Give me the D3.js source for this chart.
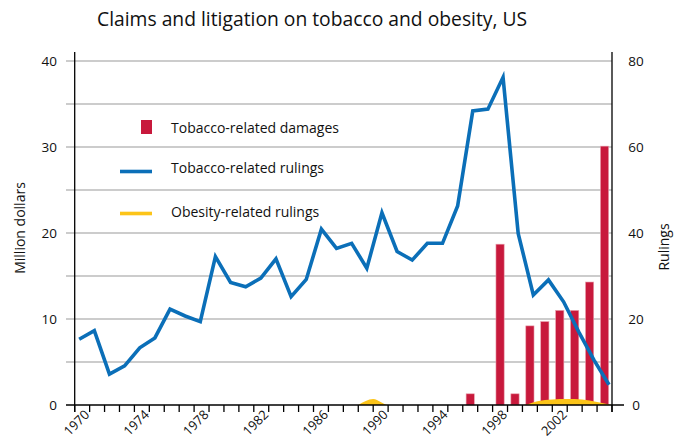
<!DOCTYPE html>
<html>
<head>
<meta charset="utf-8">
<script src="https://cdn.jsdelivr.net/npm/d3@7"></script>
<style>
  body { margin: 0; background: #fff; }
  svg { font-family: "Open Sans", "Noto Sans", sans-serif; }
</style>
</head>
<body>
<svg width="680" height="441"></svg>
<script>
// years on the x axis, tick every year, label every 4
const tickYears = d3.range(1970, 2007)
const labelYears = [1970, 1974, 1978, 1982, 1986, 1990, 1994, 1998, 2002]

// tobacco-related rulings (right axis, count per year)
const lineYears = d3.range(1970, 2006)
const tobaccoRulings = [15.3, 17.3, 7.2, 9.1, 13.3, 15.6, 22.3, 20.7, 19.4, 34.5,
  28.5, 27.5, 29.5, 34.0, 25.2, 29.2, 40.9, 36.4, 37.6, 31.8,
  44.7, 35.7, 33.7, 37.6, 37.6, 46.3, 68.4, 68.8, 76.2, 39.9,
  25.6, 29.1, 24.0, 17.0, 10.5, 4.7]

// tobacco-related damages (left axis, million dollars)
const damageYears = [1996, 1998, 1999, 2000, 2001, 2002, 2003, 2004, 2005]
const tobaccoDamages = [1.3, 18.7, 1.3, 9.2, 9.7, 11.0, 11.0, 14.3, 30.1]

// obesity-related rulings (right axis)
const obesityYears = [1989, 1990, 1991, 1999, 2000, 2001, 2002, 2003, 2004, 2005, 2006]
const obesityRulings = [0, 1.4, 0, 0, 0, 0.9, 1.3, 1.4, 1.3, 0.7, 0]

const leftTicks = [0, 10, 20, 30, 40]
const rightTicks = [0, 20, 40, 60, 80]
const gridValues = [5, 10, 15, 20, 25, 30, 35, 40]

const red = '#c8193c'
const blue = '#0b6fb8'
const yellow = '#fcc419'

const svg = d3.select('svg')

const x = d3.scaleLinear().domain([1970, 2006]).range([74.7, 612])
const yL = d3.scaleLinear().domain([0, 40]).range([405, 61])
const yR = d3.scaleLinear().domain([0, 80]).range([405, 61])

const xBand = d3.scaleBand()
  .domain(lineYears)
  .range([x(1970), x(2006)])
  .paddingInner(0.45)
  .paddingOuter(0.225)

const xLine = d3.scalePoint()
  .domain(lineYears)
  .range([x(1970.3), x(2005.8)])

// title
svg.append('text')
  .attr('x', 97)
  .attr('y', 26)
  .attr('font-size', 19.3)
  .attr('fill', '#111')
  .text('Claims and litigation on tobacco and obesity, US')

// gridlines
svg.append('g').selectAll('line')
  .data(gridValues)
  .enter()
  .append('line')
  .attr('x1', 66)
  .attr('x2', x(2006))
  .attr('y1', d => yL(d))
  .attr('y2', d => yL(d))
  .attr('stroke', '#9a9a9a')
  .attr('stroke-width', 1.2)

// bars
svg.append('g').selectAll('rect')
  .data(damageYears)
  .enter()
  .append('rect')
  .attr('x', d => xBand(d))
  .attr('width', xBand.bandwidth())
  .attr('y', (d, i) => yL(tobaccoDamages[i]))
  .attr('height', (d, i) => yL(0) - yL(tobaccoDamages[i]))
  .attr('fill', red)
  .attr('stroke', '#e8a0ad')
  .attr('stroke-width', 0.6)

// obesity area
const obesity = obesityYears.map((d, i) => ({ year: d, v: obesityRulings[i] }))
svg.append('path')
  .datum(obesity)
  .attr('d', d3.area()
    .x(d => x(d.year))
    .y0(yR(0))
    .y1(d => yR(d.v))
    .curve(d3.curveMonotoneX))
  .attr('fill', yellow)

// tobacco rulings line
svg.append('path')
  .datum(lineYears)
  .attr('d', d3.line()
    .x(d => xLine(d))
    .y((d, i) => yR(tobaccoRulings[i])))
  .attr('fill', 'none')
  .attr('stroke', blue)
  .attr('stroke-width', 3.6)
  .attr('stroke-linejoin', 'miter')

// axes lines
const axisG = svg.append('g').attr('stroke', '#000').attr('stroke-width', 1.3)
axisG.append('line').attr('x1', x(1970)).attr('x2', x(1970)).attr('y1', 52).attr('y2', 412)
axisG.append('line').attr('x1', x(2006)).attr('x2', x(2006)).attr('y1', 52).attr('y2', 412)
axisG.append('line').attr('x1', 66).attr('x2', 624).attr('y1', yL(0)).attr('y2', yL(0))

axisG.selectAll('.xt')
  .data(tickYears)
  .enter()
  .append('line')
  .attr('class', 'xt')
  .attr('x1', d => x(d))
  .attr('x2', d => x(d))
  .attr('y1', yL(0))
  .attr('y2', yL(0) + 7)

// x labels
svg.append('g').selectAll('text')
  .data(labelYears)
  .enter()
  .append('text')
  .attr('transform', d => `translate(${x(d) + 5},${426}) rotate(-45)`)
  .attr('text-anchor', 'middle')
  .attr('font-size', 13)
  .attr('fill', '#111')
  .text(d => d)

// left labels
svg.append('g').selectAll('text')
  .data(leftTicks)
  .enter()
  .append('text')
  .attr('x', 57)
  .attr('y', d => yL(d))
  .attr('dy', '0.35em')
  .attr('text-anchor', 'end')
  .attr('font-size', 13.5)
  .attr('fill', '#111')
  .text(d => d)

// right labels
svg.append('g').selectAll('text')
  .data(rightTicks)
  .enter()
  .append('text')
  .attr('x', 636)
  .attr('y', d => yR(d))
  .attr('dy', '0.35em')
  .attr('text-anchor', 'middle')
  .attr('font-size', 13.5)
  .attr('fill', '#111')
  .text(d => d)

// axis titles
svg.append('text')
  .attr('transform', 'translate(25,228) rotate(-90)')
  .attr('text-anchor', 'middle')
  .attr('font-size', 14)
  .attr('fill', '#111')
  .text('Million dollars')

svg.append('text')
  .attr('transform', 'translate(669,247) rotate(-90)')
  .attr('text-anchor', 'middle')
  .attr('font-size', 14)
  .attr('fill', '#111')
  .text('Rulings')

// legend
const legendG = svg.append('g')
legendG.append('rect')
  .attr('x', 141).attr('y', 120)
  .attr('width', 11).attr('height', 14)
  .attr('fill', red)
legendG.append('line')
  .attr('x1', 120).attr('x2', 152)
  .attr('y1', 171.5).attr('y2', 171.5)
  .attr('stroke', blue).attr('stroke-width', 3.6)
legendG.append('line')
  .attr('x1', 120).attr('x2', 152)
  .attr('y1', 213.5).attr('y2', 213.5)
  .attr('stroke', yellow).attr('stroke-width', 3.6)

const legendLabels = ['Tobacco-related damages', 'Tobacco-related rulings', 'Obesity-related rulings']
const legendBaselines = [133, 173, 217]
legendG.selectAll('text')
  .data(legendLabels)
  .enter()
  .append('text')
  .attr('x', 171)
  .attr('y', (d, i) => legendBaselines[i])
  .attr('font-size', 14)
  .attr('fill', '#111')
  .text(d => d)
</script>
</body>
</html>
